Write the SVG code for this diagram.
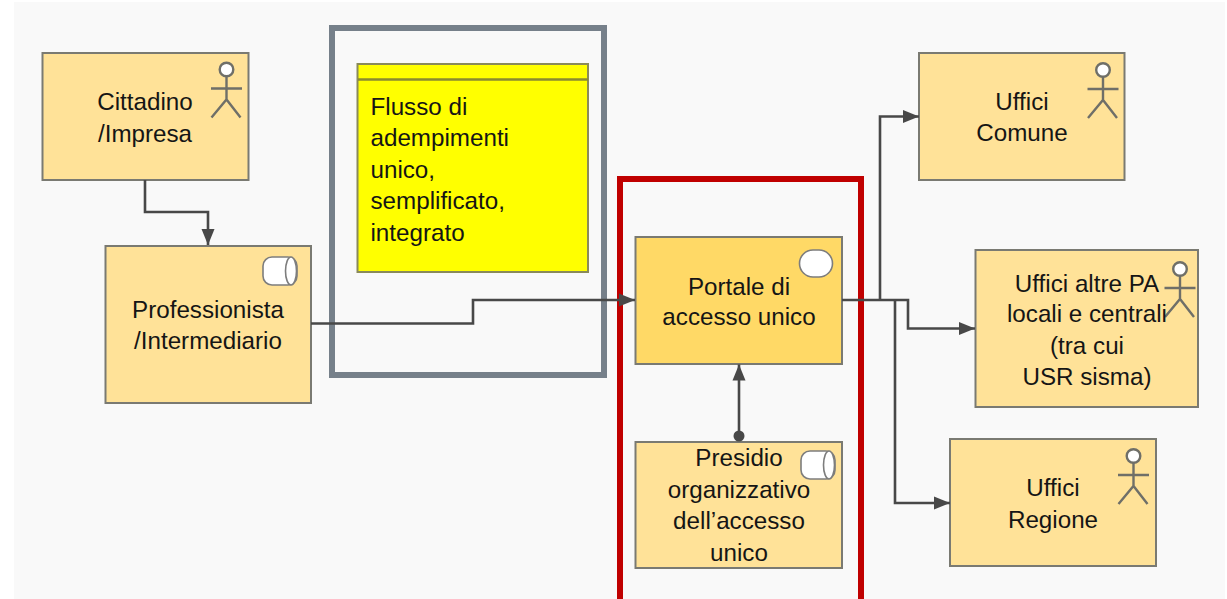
<svg xmlns="http://www.w3.org/2000/svg" width="1227" height="599" viewBox="0 0 1227 599">
<style>
text{font-family:"Liberation Sans",Arial,sans-serif;font-size:24.2px;fill:#151515;text-anchor:middle}
.n{fill:#ffe298;stroke:#7a7a72;stroke-width:2}
.c{fill:none;stroke:#484848;stroke-width:2.6}
.i{fill:#fff;stroke:#7d7d7d;stroke-width:1.6}
.a{fill:none;stroke:#6f6f68;stroke-width:2.4}
.l text{text-anchor:start}
</style>
<defs>
<marker id="arr" markerUnits="userSpaceOnUse" markerWidth="17" markerHeight="14" refX="16" refY="7" orient="auto"><path d="M0 0.500L16 7L0 13.500z" fill="#484848"/></marker>
<g id="actor"><circle cx="0" cy="-30" r="6.800" fill="#fff" stroke="#6f6f68" stroke-width="2.400"/><path class="a" d="M0-23V0M-15.500-11H15.500M-15 18L0 0L14 18"/></g>
<g id="cyl"><rect x="-17" y="-14" width="34" height="28" rx="9" class="i"/><ellipse cx="11" cy="0" rx="5.500" ry="14" class="i"/></g>
</defs>
<rect x="14" y="2" width="1211" height="597" fill="#f9f9f9"/>
<g id="frame-grey"><rect x="332" y="28" width="272" height="347" fill="none" stroke="#76808a" stroke-width="6"/></g>
<g id="frame-red"><rect x="620" y="179" width="241" height="440" fill="none" stroke="#c00000" stroke-width="6"/></g>
<g id="node-cittadino"><rect class="n" x="42.500" y="53" width="206" height="127"/><use href="#actor" x="226.500" y="99.500"/><text x="145" y="110">Cittadino</text><text x="145" y="142">/Impresa</text></g>
<g id="node-professionista"><rect class="n" x="105.500" y="246" width="205.500" height="157"/><use href="#cyl" x="280" y="271"/><text x="208" y="318">Professionista</text><text x="208" y="349">/Intermediario</text></g>
<g id="node-flusso" class="l"><rect x="357.500" y="64" width="230.500" height="208" fill="#ffff00" stroke="#8a8a5a" stroke-width="2"/><path d="M358 79.500H588" stroke="#8a8a30" stroke-width="2.400"/><text x="370.500" y="115">Flusso di</text><text x="370.500" y="146">adempimenti</text><text x="370.500" y="178">unico,</text><text x="370.500" y="209">semplificato,</text><text x="370.500" y="241">integrato</text></g>
<g id="node-portale"><rect x="635.500" y="237" width="206.500" height="127" fill="#ffd966" stroke="#7a7a72" stroke-width="2"/><rect x="799.500" y="250" width="33" height="27" rx="13.500" class="i"/><text x="739" y="295">Portale di</text><text x="739" y="325">accesso unico</text></g>
<g id="node-presidio"><rect class="n" x="635.500" y="442" width="206.500" height="126"/><use href="#cyl" x="818" y="465"/><text x="739" y="466">Presidio</text><text x="739" y="498">organizzativo</text><text x="739" y="529">dell’accesso</text><text x="739" y="561">unico</text></g>
<g id="node-comune"><rect class="n" x="919" y="53" width="205.500" height="127"/><use href="#actor" x="1103" y="100"/><text x="1022" y="110">Uffici</text><text x="1022" y="141">Comune</text></g>
<g id="node-altre"><rect class="n" x="975.500" y="250" width="222.500" height="157"/><use href="#actor" x="1180" y="299"/><text x="1087" y="292">Uffici altre PA</text><text x="1087" y="322">locali e centrali</text><text x="1087" y="354">(tra cui</text><text x="1087" y="385">USR sisma)</text></g>
<g id="node-regione"><rect class="n" x="950" y="439" width="206" height="127"/><use href="#actor" x="1133.500" y="486"/><text x="1053" y="496">Uffici</text><text x="1053" y="528">Regione</text></g>
<g id="connectors">
<path class="c" marker-end="url(#arr)" d="M145 180V212H208V245"/>
<path class="c" marker-end="url(#arr)" d="M311 323.500H473V300H635"/>
<path class="c" marker-end="url(#arr)" d="M842 300H908V328.500H975"/>
<path class="c" marker-end="url(#arr)" d="M880 300V116.500H919"/>
<path class="c" marker-end="url(#arr)" d="M895 300V503H950"/>
<path class="c" marker-end="url(#arr)" d="M739 436V364.500"/>
<circle cx="739" cy="436" r="5.500" fill="#484848"/>
</g>
</svg>
